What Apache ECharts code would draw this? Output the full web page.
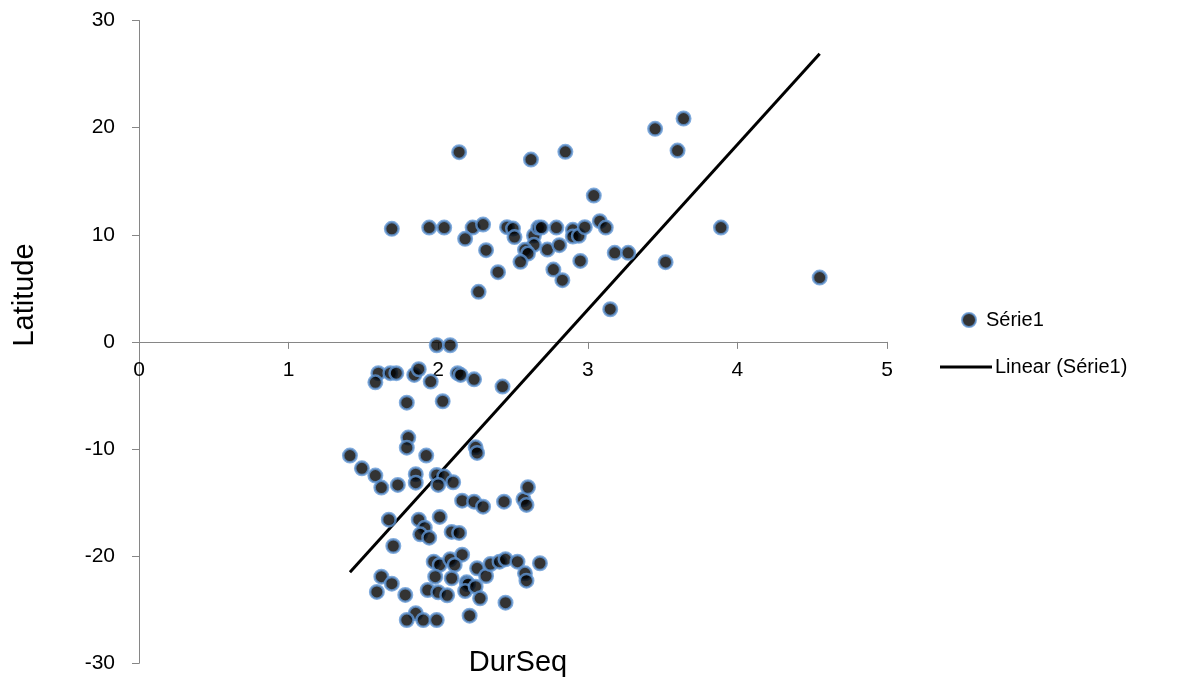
<!DOCTYPE html>
<html>
<head>
<meta charset="utf-8">
<script src="https://cdn.jsdelivr.net/npm/echarts@6/dist/echarts.min.js"></script>
<style>
  html, body { margin: 0; padding: 0; background: #fff; }
  #chart { width: 1182px; height: 684px; }
</style>
</head>
<body>
<div id="chart"></div>
<script>
// DurSeq (x) and Latitude (y) for each observation, in matching order
const durSeq = [
  2.14, 2.62, 2.85, 3.04, 1.69, 1.94, 2.04, 2.23, 2.30, 2.18, 2.32, 2.40, 2.27, 2.46, 2.50,
  2.51, 2.64, 2.67, 2.69, 2.79, 2.64, 2.58, 2.60, 2.55, 2.73, 2.81, 2.77, 2.83, 2.90, 2.90,
  2.94, 2.98, 2.95, 3.08, 3.12, 3.18, 3.27, 3.45, 3.64, 3.60, 3.52, 3.89, 4.55, 3.15,
  1.99, 2.08, 1.60, 1.58, 1.68, 1.72, 1.84, 1.87, 1.95, 2.13, 2.15, 2.24, 2.43, 1.79, 2.03,
  1.80, 1.79, 1.92, 2.25, 2.26, 1.41, 1.49, 1.58, 1.62, 1.73, 1.85, 1.85, 1.99, 2.04, 2.00,
  2.10, 2.16, 2.24, 2.30, 2.44, 2.57, 2.60, 2.59, 1.67, 1.87, 1.91, 1.88, 1.94, 2.01, 2.09,
  2.14, 1.70, 1.62, 1.69, 1.59, 1.78, 1.97, 2.01, 2.08, 2.16, 2.11, 1.98, 1.93, 2.00, 2.06,
  2.09, 2.19, 2.20, 2.18, 2.25, 2.28, 2.26, 2.32, 2.35, 2.41, 2.45, 2.53, 2.58, 2.59, 2.68,
  2.45, 1.85, 1.79, 1.90, 1.99, 2.21
];
const latitude = [
  17.71, 17.02, 17.74, 13.66, 10.55, 10.67, 10.67, 10.67, 10.95, 9.62, 8.56, 6.51, 4.67, 10.71, 10.58,
  9.78, 9.93, 10.67, 10.67, 10.67, 9.06, 8.59, 8.25, 7.47, 8.62, 9.03, 6.75, 5.76, 10.46, 9.83,
  9.90, 10.71, 7.56, 11.27, 10.67, 8.31, 8.31, 19.89, 20.85, 17.86, 7.44, 10.67, 6.00, 3.05,
  -0.31, -0.31, -2.92, -3.77, -2.92, -2.92, -3.08, -2.55, -3.70, -2.92, -3.08, -3.49, -4.17, -5.67, -5.54,
  -8.93, -9.87, -10.61, -9.84, -10.36, -10.61, -11.80, -12.48, -13.60, -13.35, -12.35, -13.14, -12.42, -12.57, -13.35,
  -13.10, -14.82, -14.91, -15.38, -14.91, -14.69, -13.57, -15.22, -16.59, -16.59, -17.34, -17.96, -18.27, -16.34, -17.74,
  -17.83, -19.05, -21.91, -22.57, -23.34, -23.62, -20.51, -20.82, -20.29, -19.86, -20.82, -21.91, -23.16, -23.37, -23.65,
  -22.06, -22.44, -22.62, -23.25, -22.85, -23.93, -21.13, -21.85, -20.73, -20.51, -20.29, -20.51, -21.60, -22.29, -20.66,
  -24.34, -25.33, -25.96, -25.96, -25.96, -25.55
];

// Linear trendline end points (DurSeq, Latitude)
const trendDurSeq = [1.41, 4.55];
const trendLatitude = [-21.5, 26.9];

const seriesName = 'Série1';
const trendName = 'Linear (Série1)';
const xTitle = 'DurSeq';
const yTitle = 'Latitude';

const points = durSeq.map((x, i) => [x, latitude[i]]);
const trend = trendDurSeq.map((x, i) => [x, trendLatitude[i]]);

const FONT = '"Liberation Sans", Arial, sans-serif';
const chart = echarts.init(document.getElementById('chart'), null, { renderer: 'canvas' });

// plot area: y from 20.5 to 663.3 px, so the y = 0 line sits half way down
const GRID_TOP = 20.5, GRID_BOTTOM = 20.7;
const plotHeight = 684 - GRID_TOP - GRID_BOTTOM;

chart.setOption({
  animation: false,
  backgroundColor: '#ffffff',
  grid: {
    left: 139, right: 295, top: GRID_TOP, bottom: GRID_BOTTOM,
    containLabel: false, outerBoundsMode: 'none'
  },
  xAxis: {
    type: 'value', min: 0, max: 5, interval: 1,
    position: 'bottom',
    offset: -plotHeight / 2,
    axisLine: { onZero: false, lineStyle: { color: '#868686', width: 1 } },
    axisTick: { show: true, length: 7, lineStyle: { color: '#868686' } },
    axisLabel: { color: '#000', fontSize: 21, fontFamily: FONT, margin: 18 },
    splitLine: { show: false }
  },
  yAxis: {
    type: 'value', min: -30, max: 30, interval: 10,
    axisLine: { show: true, lineStyle: { color: '#868686', width: 1 } },
    axisTick: { show: true, length: 7, lineStyle: { color: '#868686' } },
    axisLabel: { color: '#000', fontSize: 21, fontFamily: FONT, margin: 24 },
    splitLine: { show: false }
  },
  legend: [
    {
      data: [seriesName], orient: 'vertical', left: 956, top: 305,
      icon: 'circle', itemWidth: 14, itemHeight: 14,
      textStyle: { color: '#000', fontSize: 20, fontFamily: FONT, padding: [0, 0, 0, 5] }
    },
    {
      data: [trendName], orient: 'vertical', left: 935, top: 352,
      icon: 'rect', itemWidth: 52, itemHeight: 3,
      textStyle: { color: '#000', fontSize: 20, fontFamily: FONT, padding: [0, 0, 0, -2] }
    }
  ],
  graphic: [
    {
      type: 'text', x: 518, y: 663,
      style: { text: xTitle, fontSize: 29, fontFamily: FONT, fill: '#000', align: 'center', verticalAlign: 'middle' }
    },
    {
      type: 'text', x: 25, y: 295, rotation: Math.PI / 2,
      style: { text: yTitle, fontSize: 29, fontFamily: FONT, fill: '#000', align: 'center', verticalAlign: 'middle' }
    }
  ],
  series: [
    {
      name: trendName, type: 'line', data: trend,
      showSymbol: false, symbol: 'none', z: 1,
      itemStyle: { color: '#000' },
      lineStyle: { color: '#000', width: 3 }
    },
    {
      name: seriesName, type: 'scatter', data: points,
      symbol: 'circle', symbolSize: 13.5, z: 2,
      itemStyle: { color: '#000', borderColor: '#6096d4', borderWidth: 2.5 }
    }
  ]
});
</script>
</body>
</html>
